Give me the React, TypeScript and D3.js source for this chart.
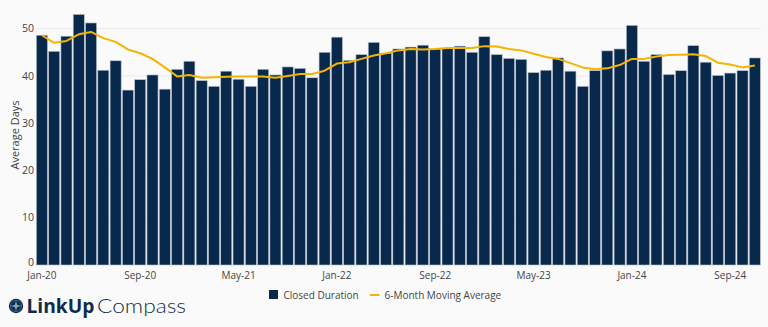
import React from "react";
import * as d3 from "d3";

const months: string[] = [];
{
  const names = ["Jan","Feb","Mar","Apr","May","Jun","Jul","Aug","Sep","Oct","Nov","Dec"];
  for (let y = 20; y <= 24; y++) for (const m of names) months.push(`${m}-${y}`);
}
const categories = months.slice(0, 59);

const closedDuration = [
  48.6, 45.2, 48.4, 53.0, 51.2, 41.2, 43.2, 37.0, 39.2, 40.2, 37.2, 41.4,
  43.1, 39.0, 37.8, 41.0, 39.3, 37.8, 41.4, 40.2, 41.9, 41.6, 39.6, 45.0,
  48.2, 43.3, 44.5, 47.1, 44.8, 45.7, 46.1, 46.5, 45.7, 45.8, 46.3, 45.0,
  48.3, 44.5, 43.7, 43.5, 40.7, 41.2, 43.8, 41.0, 37.8, 41.1, 45.3, 45.7,
  50.7, 43.1, 44.5, 40.3, 41.1, 46.4, 42.9, 40.1, 40.6, 41.1, 43.8,
];

const movingAverage = [
  48.6, 47.0, 47.4, 48.8, 49.3, 48.0, 47.2, 45.6, 44.8, 43.6, 41.8, 39.9,
  40.2, 39.6, 39.7, 39.8, 39.85, 39.9, 39.9, 39.6, 40.0, 40.4, 40.4, 41.1,
  42.6, 42.9, 43.6, 44.3, 44.8, 45.4, 45.7, 45.6, 45.7, 45.9, 45.9, 45.9,
  46.3, 46.2, 45.7, 45.4, 44.7, 44.0, 43.6, 42.7, 41.8, 41.4, 41.6, 42.3,
  43.6, 43.6, 44.1, 44.4, 44.5, 44.6, 44.2, 42.8, 42.4, 41.8, 42.2,
];

const yTicks = [0, 10, 20, 30, 40, 50];
const xTickLabels = ["Jan-20", "Sep-20", "May-21", "Jan-22", "Sep-22", "May-23", "Jan-24", "Sep-24"];

const W = 768;
const H = 327;
const NAVY = "#08294b";
const GOLD = "#f4b400";
const FONT = "'Open Sans', 'Noto Sans', sans-serif";

export default function App() {
  const x = d3.scaleBand<string>().domain(categories).range([36.1, 760.6]).paddingInner(0.1).paddingOuter(0.02);
  const y = d3.scaleLinear().domain([0, 55]).range([265, 5]);
  const line = d3
    .line<number>()
    .x((_, i) => (x(categories[i]) as number) + x.bandwidth() / 2)
    .y((d) => y(d))
    .curve(d3.curveLinear);

  return (
    <svg width={W} height={H} style={{ position: "absolute", left: 0, top: 0, background: "#fafafa" }} fontFamily={FONT}>
      <rect x={0} y={0} width={W} height={H} fill="#fafafa" />
      {yTicks.map((t) => (
        <g key={t}>
          {t > 0 && <line x1={36} x2={761} y1={y(t)} y2={y(t)} stroke="#ebebeb" strokeWidth={1} />}
          <text x={34} y={t === 0 ? y(t) - 2.5 : y(t)} dy="0.35em" textAnchor="end" fontSize={10.5} fill="#444">
            {t}
          </text>
        </g>
      ))}
      <text transform={`translate(15,135) rotate(-90)`} textAnchor="middle" dy="0.35em" fontSize={11} fill="#444">
        Average Days
      </text>
      {closedDuration.map((v, i) => (
        <rect
          key={i}
          x={x(categories[i])}
          y={y(v)}
          width={x.bandwidth()}
          height={y(0) - y(v)}
          fill={NAVY}
          stroke="#b9c2cd"
          strokeWidth={0.6}
        />
      ))}
      <path d={line(movingAverage) || ""} fill="none" stroke={GOLD} strokeWidth={2} strokeLinejoin="round" />
      {xTickLabels.map((lab) => (
        <text
          key={lab}
          x={(x(lab) as number) + x.bandwidth() / 2}
          y={278.5}
          textAnchor="middle"
          fontSize={10}
          fill="#444"
        >
          {lab}
        </text>
      ))}
      {/* legend */}
      <rect x={269} y={290} width={9} height={9} fill={NAVY} />
      <text x={283.5} y={298.5} fontSize={10} fill="#444">Closed Duration</text>
      <line x1={370} x2={379.5} y1={295} y2={295} stroke={GOLD} strokeWidth={2} />
      <text x={384.5} y={298.5} fontSize={10} fill="#444">6-Month Moving Average</text>
      {/* logo */}
      <g>
        <circle cx={16} cy={306} r={7.2} fill="#0d2b4e" />
        <circle cx={16} cy={306} r={5.6} fill="none" stroke="#5d7fa3" strokeWidth={0.6} />
        <path d="M16 300.5 L17.2 304.8 L21.5 306 L17.2 307.2 L16 311.5 L14.8 307.2 L10.5 306 L14.8 304.8 Z" fill="#4da6e0" />
        <circle cx={16} cy={306} r={1.3} fill="#f39a1e" />
      </g>
      <text x={26.5} y={313} fontSize={20} fontWeight={700} fill="#0d2b4e" fontFamily="'Open Sans', sans-serif" textLength={68} lengthAdjust="spacingAndGlyphs">
        LinkUp
      </text>
      <text x={97} y={313} fontSize={20} fontWeight={300} fill="#0d2b4e" fontFamily="'Lato', 'Open Sans', sans-serif" textLength={89} lengthAdjust="spacingAndGlyphs">
        Compass
      </text>
    </svg>
  );
}
